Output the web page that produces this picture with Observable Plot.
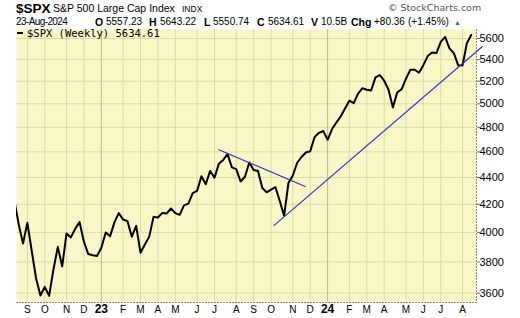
<!DOCTYPE html>
<html><head><meta charset="utf-8">
<script src="https://cdn.jsdelivr.net/npm/d3@7"></script>
<script src="https://cdn.jsdelivr.net/npm/@observablehq/plot@0.6"></script>
<style>
body{margin:0;background:#fff;}
#wrap{position:relative;width:520px;height:318px;font-family:"Liberation Sans",Arial,sans-serif;color:#000;}
#wrap svg{position:absolute;left:0;top:0;}
.t{position:absolute;white-space:nowrap;line-height:1;}
</style></head><body><div id="wrap"></div>
<script>
// Weekly closes of $SPX, first week ending 2022-08-19
const firstWeek = "2022-08-19";
const closes = [
  4228.48, 4057.66, 3924.26, 4067.36, 3873.33, 3693.23, 3585.62, 3639.66, 3583.07, 3752.75,
  3901.06, 3770.55, 3992.93, 3965.34, 4026.12, 4071.70, 3934.38, 3852.36, 3844.82, 3839.50,
  3895.08, 3999.09, 3972.61, 4070.56, 4136.48, 4090.46, 4079.09, 3970.04, 4045.64, 3861.59,
  3916.64, 3970.99, 4109.31, 4105.02, 4137.64, 4133.52, 4169.48, 4136.25, 4124.08, 4191.98,
  4205.45, 4282.37, 4298.86, 4409.59, 4348.33, 4450.38, 4398.95, 4505.42, 4536.34, 4582.23,
  4478.03, 4464.05, 4369.71, 4405.71, 4515.77, 4457.49, 4450.32, 4320.06, 4288.05, 4308.50,
  4327.78, 4224.16, 4117.37, 4358.34, 4415.24, 4514.02, 4559.34, 4594.63, 4604.37, 4719.19,
  4754.63, 4769.83, 4697.24, 4783.83, 4839.81, 4890.97, 4958.61, 5026.61, 5005.57, 5088.80,
  5137.08, 5123.69, 5117.09, 5234.18, 5254.35, 5204.34, 5123.41, 4967.23, 5099.96, 5127.79,
  5222.68, 5303.27, 5304.72, 5277.51, 5346.99, 5431.60, 5464.62, 5460.48, 5567.19, 5615.35,
  5505.00, 5459.10, 5346.56, 5344.16, 5554.25, 5634.61
];

const monthTickDates = ["2022-09-09","2022-10-07","2022-11-11","2022-12-09",
  "2023-02-10","2023-03-10","2023-04-07","2023-05-05","2023-06-09","2023-07-07","2023-08-11",
  "2023-09-08","2023-10-06","2023-11-10","2023-12-08",
  "2024-02-09","2024-03-08","2024-04-05","2024-05-10","2024-06-07","2024-07-05","2024-08-09"];
const monthTickLabels = ["S","O","N","D","F","M","A","M","J","J","A","S","O","N","D","F","M","A","M","J","J","A"];
const yearTickDates = ["2023-01-06","2024-01-05"];
const yearTickLabels = ["23","24"];
const yTicks = [3600,3800,4000,4200,4400,4600,4800,5000,5200,5400,5600];

const downTrendDates = ["2023-07-14","2023-11-30"];
const downTrendValues = [4617, 4332];
const upTrendDates = ["2023-10-11","2024-09-10"];
const upTrendValues = [4049, 5522];

const toDate = s => new Date(s + "T00:00:00Z");
const start = toDate(firstWeek);
const series = closes.map((c, i) => ({date: d3.utcDay.offset(start, 7 * i), close: c}));
const down = downTrendDates.map((d, i) => ({date: toDate(d), v: downTrendValues[i]}));
const up = upTrendDates.map((d, i) => ({date: toDate(d), v: upTrendValues[i]}));
const mDates = monthTickDates.map(toDate);
const yDates = yearTickDates.map(toDate);
const mLab = new Map(mDates.map((d, i) => [+d, monthTickLabels[i]]));
const yLab = new Map(yDates.map((d, i) => [+d, yearTickLabels[i]]));

const chart = Plot.plot({
  width: 520, height: 318,
  marginTop: 29, marginBottom: 16, marginLeft: 16, marginRight: 44,
  style: {background: "transparent", fontFamily: "'Liberation Sans', Arial, sans-serif", fontSize: "11px", color: "#000", overflow: "visible"},
  x: {type: "utc", domain: [new Date("2022-08-22T12:00Z"), new Date("2024-08-31T12:00Z")]},
  y: {type: "log", domain: [3542, 5688]},
  marks: [
    Plot.frame({fill: "#F9F7C7", stroke: null}),
    Plot.gridY(yTicks, {stroke: "#DDDAA6", strokeOpacity: 1}),
    Plot.gridX(mDates, {stroke: "#DDDAA6", strokeOpacity: 1}),
    Plot.gridX(yDates, {stroke: "#BEBA92", strokeOpacity: 1}),
    Plot.frame({anchor: "right", stroke: "#8a8a70", strokeDasharray: "1,2"}),
    Plot.frame({anchor: "bottom", stroke: "#8a8a70", strokeDasharray: "1,2"}),
    Plot.axisY(yTicks, {anchor: "right", tickSize: 3, tickPadding: 0, stroke: "#666", tickFormat: d => String(d), fontSize: 11, label: null}),
    Plot.axisX(mDates, {anchor: "bottom", tickSize: 0, tickPadding: 3, tickFormat: d => mLab.get(+d), fontSize: 10, label: null}),
    Plot.axisX(yDates, {anchor: "bottom", tickSize: 0, tickPadding: 2, tickFormat: d => yLab.get(+d), fontSize: 12, fontWeight: "bold", label: null}),
    Plot.line(series, {x: "date", y: "close", stroke: "#000", strokeWidth: 2, clip: true}),
    Plot.line(down, {x: "date", y: "v", stroke: "#3434C0", strokeWidth: 1.2}),
    Plot.line(up, {x: "date", y: "v", stroke: "#3434C0", strokeWidth: 1.2})
  ]
});
const wrap = document.getElementById("wrap");
wrap.appendChild(chart);

const header = [
  {t: "$SPX", x: 16, b: 14, fs: 13.5, w: "bold"},
  {t: "S&P 500 Large Cap Index", x: 53, b: 13, fs: 10.5},
  {t: "INDX", x: 182, b: 13, fs: 8.5},
  {t: "© StockCharts.com", x: 388, b: 12, fs: 9.5, c: "#555", f: "'DejaVu Sans', sans-serif"},
  {t: "23-Aug-2024", x: 16, b: 26.5, fs: 10, ls: -0.6},
  {t: "O", x: 95, b: 26.5, fs: 10.5, w: "bold"},
  {t: "5557.23", x: 106, b: 26.5, fs: 10},
  {t: "H", x: 149, b: 26.5, fs: 10.5, w: "bold"},
  {t: "5643.22", x: 160, b: 26.5, fs: 10},
  {t: "L", x: 204, b: 26.5, fs: 10.5, w: "bold"},
  {t: "5550.74", x: 213, b: 26.5, fs: 10},
  {t: "C", x: 257, b: 26.5, fs: 10.5, w: "bold"},
  {t: "5634.61", x: 268, b: 26.5, fs: 10},
  {t: "V", x: 311, b: 26.5, fs: 10.5, w: "bold"},
  {t: "10.5B", x: 321, b: 26.5, fs: 10},
  {t: "Chg", x: 351, b: 26.5, fs: 10.5, w: "bold"},
  {t: "+80.36", x: 374, b: 26.5, fs: 10},
  {t: "(+1.45%)", x: 408, b: 26.5, fs: 10},
  {t: "▲", x: 454, b: 25.5, fs: 7, c: "#3f6b3f"},
  {t: "$SPX (Weekly) 5634.61", x: 27, b: 37.5, fs: 10.5, f: "'DejaVu Sans Mono', monospace"}
];
for (const h of header) {
  const s = document.createElement("div");
  s.className = "t";
  s.textContent = h.t;
  s.style.left = h.x + "px";
  s.style.top = (h.b - 0.905 * h.fs) + "px";
  s.style.fontSize = h.fs + "px";
  if (h.w) s.style.fontWeight = h.w;
  if (h.c) s.style.color = h.c;
  if (h.f) s.style.fontFamily = h.f;
  if (h.ls) s.style.letterSpacing = h.ls + "px";
  wrap.appendChild(s);
}
const dash = document.createElement("div");
dash.style.cssText = "position:absolute;left:17px;top:32px;width:6px;height:2px;background:#000;";
wrap.appendChild(dash);
</script></body></html>
